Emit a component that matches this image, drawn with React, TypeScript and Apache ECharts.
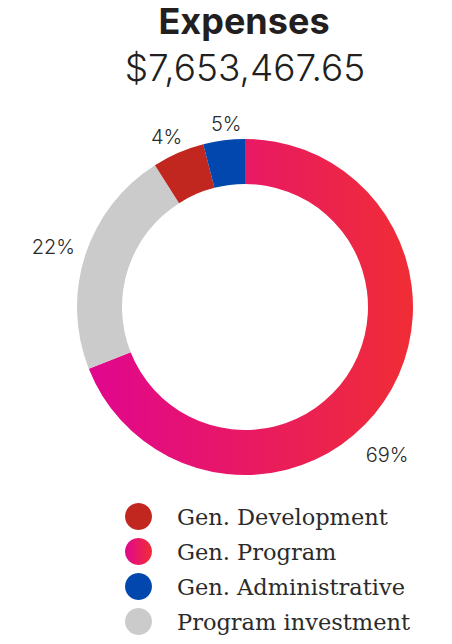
import React, { useEffect, useRef } from "react";
import * as echarts from "echarts";

const titleText = "Expenses";
const totalText = "$7,653,467.65";
const categories = ["Gen. Program", "Program investment", "Gen. Development", "Gen. Administrative"];
const shares = [69, 22, 5, 4];
const shareLabels = ["69%", "22%", "4%", "5%"];
const legendOrder = ["Gen. Development", "Gen. Program", "Gen. Administrative", "Program investment"];

const programGradient = new echarts.graphic.LinearGradient(0, 0, 1, 0, [
  { offset: 0, color: "#e1068f" },
  { offset: 1, color: "#f02d35" },
]);
const colors: any[] = [programGradient, "#cbcbcb", "#c1271f", "#0147ad"];
const labelOffsets = [[-15, 41], [-11, -1], [-3, 4], [5, 6]];

export default function App() {
  const ref = useRef<HTMLDivElement>(null);
  useEffect(() => {
    document.body.style.margin = "0";
    const chart = echarts.init(ref.current!, null, { renderer: "svg" });
    const data = categories.map((name, i) => ({
      name,
      value: shares[i],
      itemStyle: { color: colors[i] },
    }));
    const labelData = categories.map((name, i) => ({
      name,
      value: shares[i],
      label: {
        formatter: shareLabels[i],
        offset: labelOffsets[i],
      },
    }));
    chart.setOption({
      animation: false,
      graphic: [
        {
          type: "text",
          x: 244,
          y: 3,
          style: {
            text: titleText,
            font: "bold 36px Inter",
            fill: "#231f20",
            textAlign: "center",
            textVerticalAlign: "top",
          },
        },
        {
          type: "text",
          x: 245,
          y: 49,
          style: {
            text: totalText,
            font: "300 37px Inter",
            fill: "#231f20",
            textAlign: "center",
            textVerticalAlign: "top",
          },
        },
      ],
      legend: {
        orient: "vertical",
        left: 125,
        top: 503,
        height: 141,
        padding: 0,
        itemWidth: 27,
        itemHeight: 27,
        itemGap: 8,
        icon: "circle",
        data: legendOrder,
        selectedMode: false,
        textStyle: {
          fontFamily: "DejaVu Serif",
          fontSize: 22.5,
          color: "#2b2b2b",
          padding: [0, 0, 0, 20],
        },
      },
      series: [
        {
          type: "pie",
          center: [245, 307],
          radius: [123, 168],
          startAngle: 90,
          clockwise: true,
          silent: true,
          label: { show: false },
          labelLine: { show: false },
          data,
        },
        {
          type: "pie",
          center: [245, 307],
          radius: [174, 200],
          startAngle: 90,
          clockwise: true,
          silent: true,
          itemStyle: { color: "rgba(0,0,0,0)" },
          label: {
            show: true,
            position: "inside",
            fontFamily: "Inter",
            fontWeight: 300,
            fontSize: 20,
            color: "#2b2b2b",
          },
          labelLine: { show: false },
          data: labelData,
        },
      ],
    });
    return () => chart.dispose();
  }, []);
  return <div ref={ref} style={{ width: 452, height: 644 }} />;
}
